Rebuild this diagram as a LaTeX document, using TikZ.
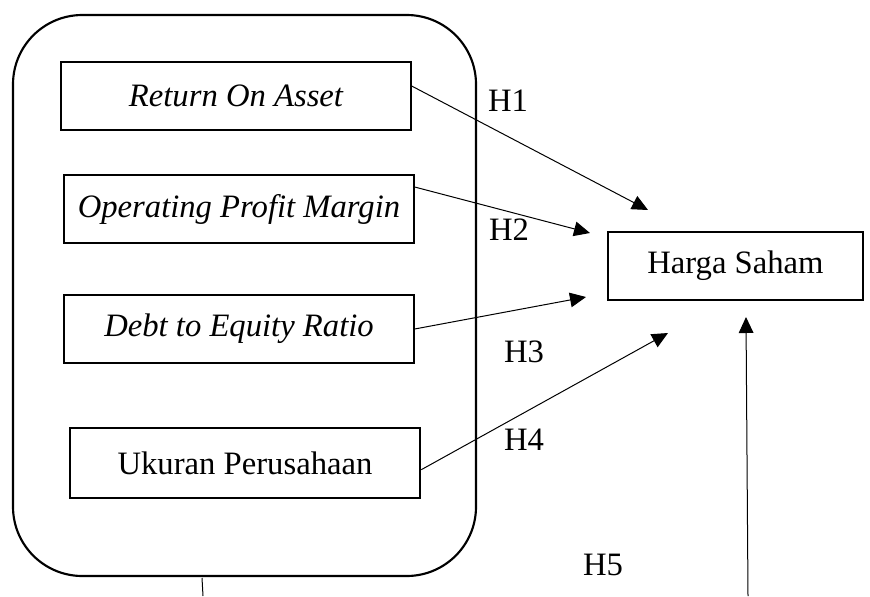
\documentclass[tikz,border=0pt]{standalone}
\usepackage{fontspec}
\setmainfont{Liberation Serif}
\usepackage{tikz}
\usetikzlibrary{arrows.meta,positioning,calc}

\begin{document}
\begin{tikzpicture}[
    x=0.75pt, y=-0.75pt,
    font=\fontsize{24.5}{29}\selectfont,
    var/.style={rectangle, draw, line width=1.5pt, minimum width=262pt, minimum height=51pt, inner sep=0pt},
    hyp/.style={inner sep=0pt},
    link/.style={-{Triangle[length=12pt,width=11pt]}, line width=0.75pt}
]
    \useasboundingbox (0,0) rectangle (870,596);

    % Group
    \draw[line width=1.6pt, rounded corners=52pt] (13,15) rectangle (476,576);

    % Independent variables
    \node[var] (roa) at (236,96) {\itshape Return On Asset};
    \node[var] (opm) at (239,209) {\itshape Operating Profit Margin};
    \node[var] (der) at (239,329) {\itshape Debt to Equity Ratio};
    \node[var, minimum width=263pt, minimum height=53pt] (size) at (245,463) {Ukuran Perusahaan};

    % Dependent variable
    \node[var, minimum width=191pt] (price) at (735.5,266) {Harga Saham};

    % Arrow ends
    \coordinate (t1) at (648,210);
    \coordinate (t2) at (590,233);
    \coordinate (t3) at (586,297);
    \coordinate (t4) at (668,333);
    \coordinate (t5) at (746,317);
    \coordinate (b5) at (748,596);
    \coordinate (g1) at (202,578);
    \coordinate (g2) at (203,596);

    % Hypotheses
    \node[hyp] (h1) at (508,101) {H1};
    \node[hyp] (h2) at (509,230) {H2};
    \node[hyp] (h3) at (524,352) {H3};
    \node[hyp] (h4) at (524,440) {H4};
    \node[hyp] (h5) at (603,565) {H5};

    % Arrows
    \draw[link] ([yshift=7.5pt]roa.east) -- (t1);
    \draw[link] ([yshift=16.5pt]opm.east) -- (t2);
    \draw[link] (der.east) -- (t3);
    \draw[link] ([yshift=-5pt]size.east) -- (t4);
    \draw[link] (b5) -- (t5);
    \draw[line width=0.75pt] (g1) -- (g2);
\end{tikzpicture}
\end{document}
